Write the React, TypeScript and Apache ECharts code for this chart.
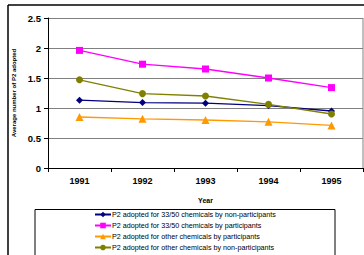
import React, { useEffect, useRef } from "react";
import * as echarts from "echarts";

const years = ["1991", "1992", "1993", "1994", "1995"];
const nonPart3350 = [1.13, 1.09, 1.08, 1.04, 0.95];
const part3350 = [1.96, 1.73, 1.65, 1.5, 1.34];
const partOther = [0.85, 0.82, 0.8, 0.77, 0.71];
const nonPartOther = [1.47, 1.24, 1.2, 1.06, 0.9];
const seriesNames = [
  "P2 adopted for 33/50 chemicals by non-participants",
  "P2 adopted for 33/50 chemicals by participants",
  "P2 adopted for other chemicals by participants",
  "P2 adopted for other chemicals by non-participants",
];

export default function App() {
  const ref = useRef<HTMLDivElement>(null);
  useEffect(() => {
    const chart = echarts.init(ref.current!, undefined, { renderer: "svg" });
    const font = "Liberation Sans, Arial, sans-serif";
    const mk = (name: string, data: number[], color: string, symbol: string, size: number) => ({
      name,
      type: "line",
      data,
      symbol,
      symbolSize: size,
      lineStyle: { color, width: 1.3 },
      itemStyle: { color },
      emphasis: { disabled: true },
    });
    chart.setOption({
      animation: false,
      grid: { left: 48, right: 1, top: 18, bottom: 87, show: false },
      xAxis: {
        type: "category",
        data: years,
        boundaryGap: true,
        name: "Year",
        nameLocation: "middle",
        nameGap: 29,
        nameTextStyle: { fontFamily: font, fontSize: 7, fontWeight: "bold", color: "#000" },
        axisLine: { lineStyle: { color: "#000", width: 1 } },
        axisTick: { show: true, length: 4, lineStyle: { color: "#000" } },
        axisLabel: { fontFamily: font, fontSize: 9, fontWeight: "bold", color: "#000", margin: 8 },
      },
      yAxis: {
        type: "value",
        min: 0,
        max: 2.5,
        interval: 0.5,
        name: "Average number of P2 adopted",
        nameLocation: "middle",
        nameGap: 30,
        nameTextStyle: { fontFamily: font, fontSize: 6, fontWeight: "bold", color: "#000" },
        axisLine: { show: true, lineStyle: { color: "#000", width: 1 } },
        axisTick: { show: true, length: 4, lineStyle: { color: "#000" } },
        axisLabel: { fontFamily: font, fontSize: 9.5, fontWeight: "bold", color: "#000", margin: 7 },
        splitLine: { show: true, lineStyle: { color: "#808080", width: 1 } },
      },
      legend: {
        orient: "vertical",
        left: 94,
        top: 211,
        height: 80,
        padding: 0,
        itemGap: 4,
        itemWidth: 16,
        itemHeight: 7,
        data: seriesNames,
        textStyle: { fontFamily: font, fontSize: 7.2, color: "#000", padding: [0, 0, 0, -4] },
      },
      graphic: [
        { type: "line", shape: { x1: 8, y1: 5, x2: 364, y2: 5 }, style: { stroke: "#000", lineWidth: 1.5 } },
        { type: "line", shape: { x1: 8, y1: 5, x2: 8, y2: 255 }, style: { stroke: "#000", lineWidth: 1.5 } },
        { type: "line", shape: { x1: 363, y1: 18, x2: 363, y2: 168 }, style: { stroke: "#808080", lineWidth: 1 } },
        { type: "rect", shape: { x: 35, y: 209.5, width: 300, height: 50 }, style: { fill: "none", stroke: "#000", lineWidth: 1 } },
      ],
      series: [
        mk(seriesNames[0], nonPart3350, "#000080", "diamond", 7),
        mk(seriesNames[1], part3350, "#FF00FF", "rect", 7),
        mk(seriesNames[2], partOther, "#FF9900", "triangle", 8),
        mk(seriesNames[3], nonPartOther, "#808000", "circle", 7),
      ],
    });
    return () => chart.dispose();
  }, []);
  return (
    <div
      ref={ref}
      style={{ position: "absolute", left: 0, top: 0, width: 364, height: 255, background: "#fff" }}
    />
  );
}
